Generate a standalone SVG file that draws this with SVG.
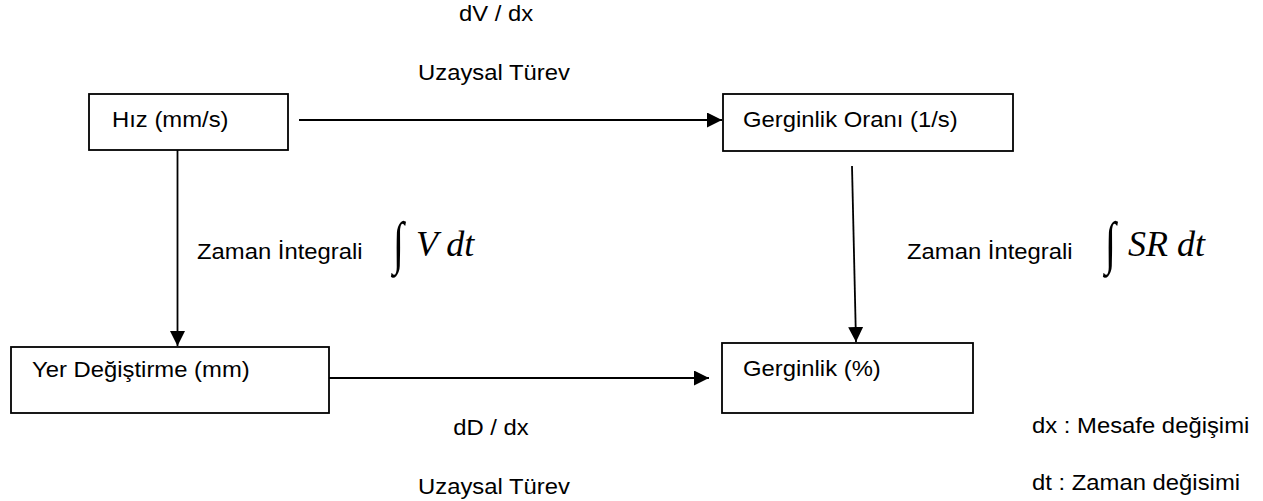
<svg xmlns="http://www.w3.org/2000/svg" width="1263" height="501" viewBox="0 0 1263 501">
<style>
.box{fill:#fff;stroke:#000;stroke-width:1.8}
.t{font-family:"Liberation Sans",Arial,sans-serif;font-size:22px;fill:#000}
.m{font-family:"Liberation Serif","Times New Roman",serif;font-size:36px;font-style:italic;fill:#000}
.int{font-family:"Liberation Serif","Times New Roman",serif;font-size:40px;fill:#000}
.c{stroke:#000;stroke-width:1.8;fill:none}
</style>
<defs>
<marker id="ah" viewBox="0 0 15 15" refX="15" refY="7.5" markerWidth="15" markerHeight="15" markerUnits="userSpaceOnUse" orient="auto">
<path d="M0,0 L15,7.5 L0,15 Z" fill="#000"/>
</marker>
</defs>
<rect width="1263" height="501" fill="#fff"/>
<g id="connectors">
<line class="c" x1="299" y1="120" x2="722" y2="120" marker-end="url(#ah)"/>
<line class="c" x1="177.5" y1="150" x2="177.5" y2="346" marker-end="url(#ah)"/>
<line class="c" x1="329" y1="378" x2="709" y2="378" marker-end="url(#ah)"/>
<line class="c" x1="852" y1="166" x2="856" y2="342" marker-end="url(#ah)"/>
</g>
<g id="node-hiz">
<rect class="box" x="89" y="94" width="199" height="56"/>
<text class="t" transform="translate(112 127) scale(1.084 1)">Hız (mm/s)</text>
</g>
<g id="node-gerginlik-orani">
<rect class="box" x="723" y="94" width="290" height="57"/>
<text class="t" transform="translate(743 127) scale(1.084 1)">Gerginlik Oranı (1/s)</text>
</g>
<g id="node-yer-degistirme">
<rect class="box" x="11" y="347" width="318" height="66"/>
<text class="t" transform="translate(32 377) scale(1.084 1)">Yer Değiştirme (mm)</text>
</g>
<g id="node-gerginlik">
<rect class="box" x="722" y="343" width="251" height="70"/>
<text class="t" transform="translate(743 376) scale(1.084 1)">Gerginlik (%)</text>
</g>
<g id="labels">
<text class="t" text-anchor="middle" transform="translate(496 21) scale(1.084 1)">dV / dx</text>
<text class="t" text-anchor="middle" transform="translate(494 80) scale(1.084 1)">Uzaysal Türev</text>
<text class="t" transform="translate(197 259) scale(1.084 1)">Zaman İntegrali</text>
<text class="int" transform="translate(393 262) scale(1 1.45)">∫</text>
<text class="m" x="416" y="256">V dt</text>
<text class="t" transform="translate(907 259) scale(1.084 1)">Zaman İntegrali</text>
<text class="int" transform="translate(1105 262) scale(1 1.45)">∫</text>
<text class="m" x="1128" y="256">SR dt</text>
<text class="t" text-anchor="middle" transform="translate(491 435) scale(1.084 1)">dD / dx</text>
<text class="t" text-anchor="middle" transform="translate(494 494) scale(1.084 1)">Uzaysal Türev</text>
<text class="t" transform="translate(1032 433) scale(1.084 1)">dx : Mesafe değişimi</text>
<text class="t" transform="translate(1032 490) scale(1.084 1)">dt : Zaman değisimi</text>
</g>
</svg>
